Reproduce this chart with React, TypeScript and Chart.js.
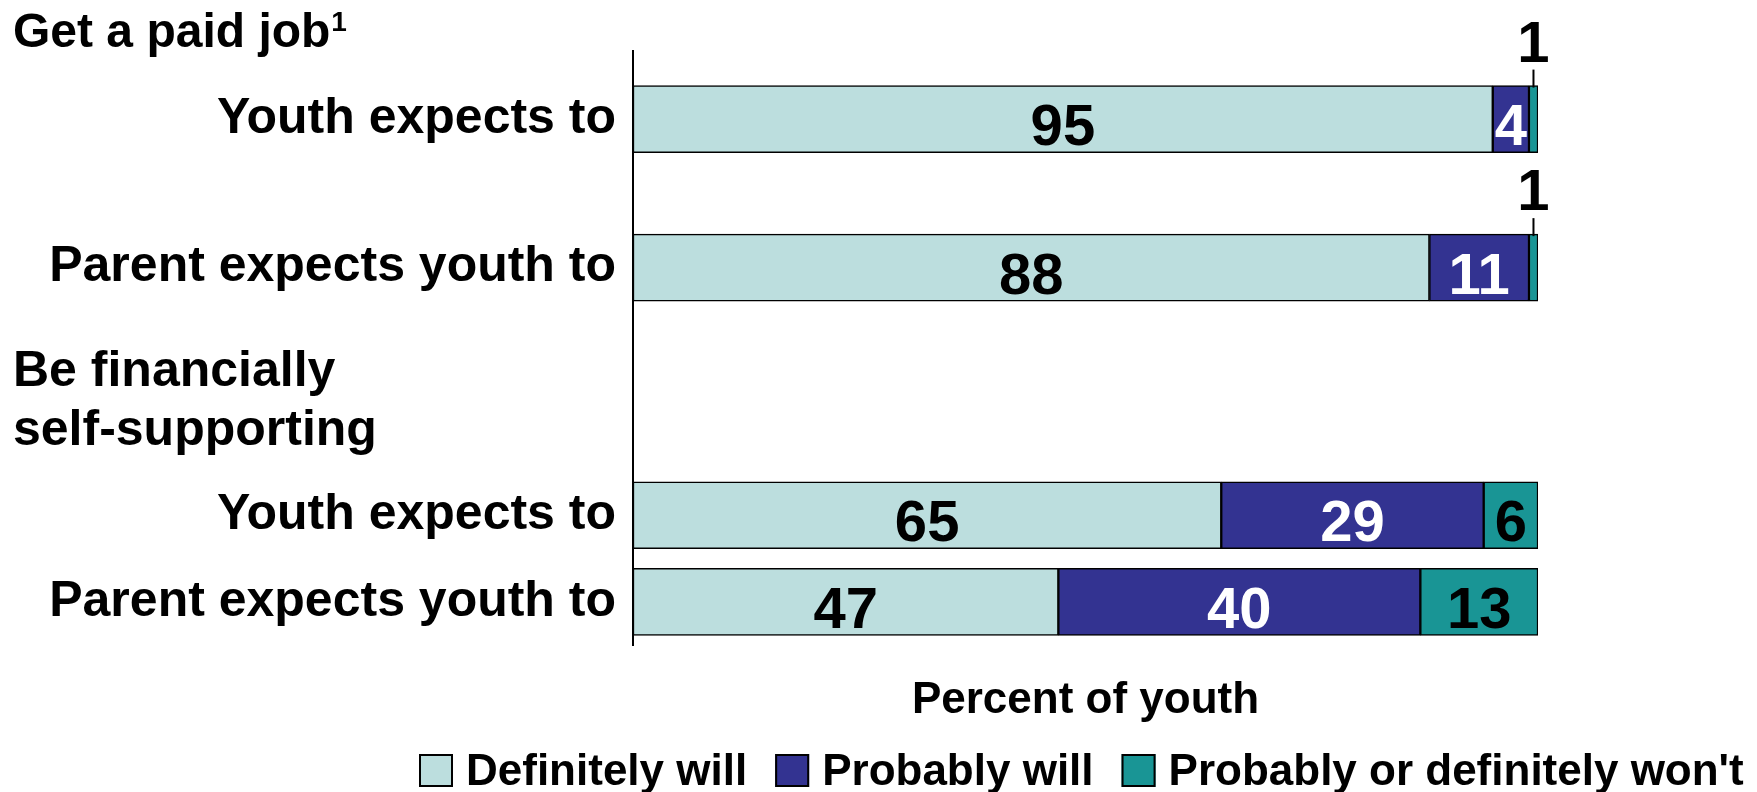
import React, { useEffect, useRef } from 'react';
import { Chart, registerables } from 'chart.js';

Chart.register(...registerables);

// ---- data ----
const seriesNames = ['Definitely will', 'Probably will', "Probably or definitely won't"];
const rowLabels = ['Youth expects to', 'Parent expects youth to', 'Youth expects to', 'Parent expects youth to'];
const definitelyWill = [95, 88, 65, 47];
const probablyWill = [4, 11, 29, 40];
const probablyOrDefinitelyWont = [1, 1, 6, 13];
const groupHeaderJob = 'Get a paid job';
const groupHeaderJobNote = '1';
const groupHeaderFinance = ['Be financially', 'self-supporting'];
const xAxisTitle = 'Percent of youth';

// category slots (rows are spaced unevenly, blank slots act as gaps)
const SLOT_COUNT = 48;
const rowSlots = [5, 17, 37, 44];

const seriesColors = ['#BCDEDE', '#333391', '#199595'];
const labelColors = ['#000000', '#ffffff', '#000000'];
const FONT = '"Liberation Sans", Arial, Helvetica, sans-serif';

const slotLabels = Array.from({ length: SLOT_COUNT }, (_, i) => {
  const r = rowSlots.indexOf(i);
  return r >= 0 ? rowLabels[r] : '';
});
const toSlots = (values: number[]) =>
  Array.from({ length: SLOT_COUNT }, (_, i) => {
    const r = rowSlots.indexOf(i);
    return r >= 0 ? values[r] : null;
  });

const overlayPlugin = {
  id: 'overlay',
  afterDatasetsDraw(chart: any) {
    const ctx = chart.ctx;
    chart.data.datasets.forEach((ds: any, di: number) => {
      const meta = chart.getDatasetMeta(di);
      meta.data.forEach((el: any, i: number) => {
        const v = ds.data[i];
        if (v == null) return;
        const { x, y, base, height } = el.getProps(['x', 'y', 'base', 'height'], true);
        const cx = (x + base) / 2;
        ctx.save();
        ctx.font = `bold 58px ${FONT}`;
        ctx.textAlign = 'center';
        ctx.textBaseline = 'alphabetic';
        if (v >= 3) {
          ctx.fillStyle = labelColors[di];
          ctx.fillText(String(v), cx, y + 26);
        } else {
          const top = y - height / 2;
          ctx.fillStyle = '#000';
          ctx.fillText(String(v), cx, top - 24);
          ctx.strokeStyle = '#000';
          ctx.lineWidth = 2;
          ctx.beginPath();
          ctx.moveTo(cx, top - 16);
          ctx.lineTo(cx, top + 2);
          ctx.stroke();
        }
        ctx.restore();
      });
    });
  },
  afterDraw(chart: any) {
    const ctx = chart.ctx;
    ctx.save();
    ctx.fillStyle = '#000';
    ctx.textAlign = 'left';
    ctx.textBaseline = 'alphabetic';
    // group headers
    ctx.font = `bold 48px ${FONT}`;
    ctx.fillText(groupHeaderJob, 13, 47);
    const w = ctx.measureText(groupHeaderJob).width;
    ctx.font = `bold 28px ${FONT}`;
    ctx.fillText(groupHeaderJobNote, 13 + w + 1, 31);
    ctx.font = `bold 50px ${FONT}`;
    ctx.fillText(groupHeaderFinance[0], 13, 386);
    ctx.fillText(groupHeaderFinance[1], 13, 445);
    // legend
    ctx.font = `bold 44px ${FONT}`;
    let lx = 419;
    seriesNames.forEach((name, i) => {
      ctx.fillStyle = seriesColors[i];
      ctx.fillRect(lx, 754, 34, 33);
      ctx.strokeStyle = '#000';
      ctx.lineWidth = 2;
      ctx.strokeRect(lx + 1, 755, 32, 31);
      ctx.fillStyle = '#000';
      ctx.fillText(name, lx + 47, 785);
      lx += 47 + ctx.measureText(name).width + 28;
    });
    ctx.restore();
  },
};

export default function App() {
  const ref = useRef<HTMLCanvasElement>(null);
  useEffect(() => {
    document.body.style.margin = '0';
    const datasetValues = [definitelyWill, probablyWill, probablyOrDefinitelyWont];
    const chart = new Chart(ref.current as HTMLCanvasElement, {
      type: 'bar',
      data: {
        labels: slotLabels,
        datasets: seriesNames.map((name, i) => ({
          label: name,
          data: toSlots(datasetValues[i]),
          backgroundColor: seriesColors[i],
          borderColor: '#000',
          borderWidth: 1.5,
          borderSkipped: false,
          barThickness: 67,
        })),
      },
      options: {
        indexAxis: 'y',
        responsive: false,
        animation: false,
        layout: { padding: { top: 51, right: 219, bottom: 65, left: 0 } },
        plugins: {
          legend: { display: false },
          tooltip: { enabled: false },
        },
        scales: {
          x: {
            stacked: true,
            min: 0,
            max: 100,
            grid: { display: false, drawTicks: false },
            border: { display: false },
            ticks: { display: false },
            title: {
              display: true,
              text: xAxisTitle,
              color: '#000',
              font: { family: FONT, size: 44, weight: 'bold' },
              padding: { top: 29, bottom: 0 },
            },
          },
          y: {
            stacked: true,
            grid: { display: false, drawTicks: false },
            border: { display: true, color: '#000', width: 2 },
            ticks: {
              autoSkip: false,
              color: '#000',
              padding: 17,
              font: { family: FONT, size: 50, weight: 'bold' },
            },
            afterFit: (scale: any) => {
              scale.width = 633;
            },
          },
        },
      } as any,
      plugins: [overlayPlugin],
    });
    return () => chart.destroy();
  }, []);
  return (
    <div style={{ width: 1757, height: 792 }}>
      <canvas ref={ref} width={1757} height={792} style={{ display: 'block' }} />
    </div>
  );
}
